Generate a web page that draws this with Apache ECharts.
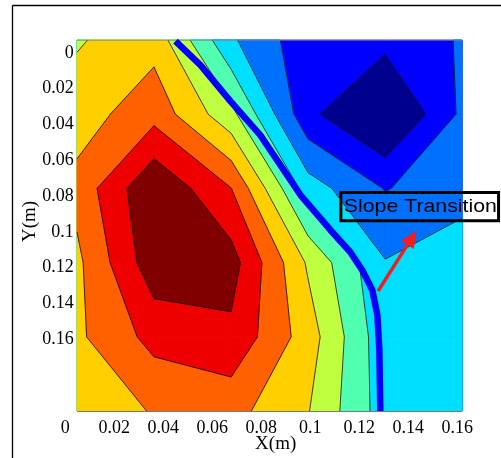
<!DOCTYPE html>
<html>
<head>
<meta charset="utf-8">
<script src="https://cdn.jsdelivr.net/npm/echarts@6/dist/echarts.min.js"></script>
<style>
  html, body { margin: 0; padding: 0; background: #ffffff; }
  #chart { width: 501px; height: 458px; }
</style>
</head>
<body>
<div id="chart"></div>
<script>
// Sampling grid of the measured field (metres)
const gridX = [0.0048, 0.0362, 0.0677, 0.0991, 0.1306, 0.162];
const gridY = [-0.0072, 0.0342, 0.0757, 0.1171, 0.1586, 0.2];

// Field values, one row per gridY entry, one column per gridX entry
const fieldRow0 = [5.9, 6.63, 3.15, 1.35, 1.32, 2.09];
const fieldRow1 = [6.5, 7.65, 5.3, 1.25, -0.35, 2.2];
const fieldRow2 = [7.33, 9.9, 8.02, 3.47, 1.95, 2.58];
const fieldRow3 = [6.77, 9.63, 9.43, 5.86, 3.05, 3.63];
const fieldRow4 = [6.81, 8.33, 8.78, 6.5, 3.31, 3.65];
const fieldRow5 = [6.05, 7.1, 7.34, 6.05, 3.5, 3.7];
const fieldValues = [fieldRow0, fieldRow1, fieldRow2, fieldRow3, fieldRow4, fieldRow5];

// Filled-contour levels and the jet colour of each band
const contourLevels = [1, 2, 3, 4, 5, 6, 7, 8, 9];
const bandColors = ['#00008F', '#0000FF', '#0070FF', '#00DFFF', '#50FFAF',
                    '#BFFF40', '#FFCF00', '#FF6000', '#EF0000', '#800000'];

// Tick labels
const yTickValues = [0, 0.02, 0.04, 0.06, 0.08, 0.1, 0.12, 0.14, 0.16];

// Hand-drawn slope transition line (x, y in metres)
const transitionPath = [
  [0.0450, -0.0066], [0.0552, 0.0068], [0.0674, 0.0269], [0.0796, 0.0459],
  [0.0960, 0.0794], [0.1082, 0.0989], [0.1163, 0.1112], [0.1212, 0.1213],
  [0.1253, 0.1324], [0.1274, 0.1464], [0.1282, 0.1659], [0.1286, 0.2]
];

// Callout arrow and label
const arrowTail = [0.1277, 0.1330];
const arrowTip = [0.1434, 0.0992];
const calloutAnchor = [0.1125, 0.0780];
const calloutText = 'Slope Transition';

function renderContours(params, api) {
  const nx = gridX.length, ny = gridY.length;
  const P = (c, r) => api.coord([gridX[c], gridY[r]]);
  const children = [];
  const tl = P(0, 0), br = P(nx - 1, ny - 1);
  children.push({
    type: 'rect',
    shape: { x: tl[0], y: tl[1], width: br[0] - tl[0], height: br[1] - tl[1] },
    style: { fill: bandColors[0] }
  });
  const segments = [];
  contourLevels.forEach((level, k) => {
    const color = bandColors[k + 1];
    for (let r = 0; r < ny - 1; r++) {
      for (let c = 0; c < nx - 1; c++) {
        const corners = [[c, r], [c + 1, r], [c + 1, r + 1], [c, r + 1]];
        const pts = [];
        for (let i = 0; i < 4; i++) {
          const a = corners[i], b = corners[(i + 1) % 4];
          const va = fieldValues[a[1]][a[0]], vb = fieldValues[b[1]][b[0]];
          const pa = P(a[0], a[1]), pb = P(b[0], b[1]);
          if (va >= level) pts.push({ p: pa, cut: false });
          if ((va >= level) !== (vb >= level)) {
            const t = (level - va) / (vb - va);
            pts.push({ p: [pa[0] + t * (pb[0] - pa[0]), pa[1] + t * (pb[1] - pa[1])], cut: true });
          }
        }
        if (pts.length < 3) continue;
        children.push({
          type: 'polygon',
          shape: { points: pts.map(o => o.p) },
          style: { fill: color, stroke: color, lineWidth: 0.8 }
        });
        for (let i = 0; i < pts.length; i++) {
          const a = pts[i], b = pts[(i + 1) % pts.length];
          if (a.cut && b.cut) segments.push([a.p, b.p]);
        }
      }
    }
  });
  segments.forEach(s => children.push({
    type: 'line',
    shape: { x1: s[0][0], y1: s[0][1], x2: s[1][0], y2: s[1][1] },
    style: { stroke: '#111', lineWidth: 0.8 }
  }));
  // plot frame: bottom and top edges
  children.push({
    type: 'line',
    shape: { x1: tl[0], y1: br[1] + 0.5, x2: br[0], y2: br[1] + 0.5 },
    style: { stroke: '#7a7a7a', lineWidth: 1.2 }
  });
  children.push({
    type: 'line',
    shape: { x1: tl[0], y1: tl[1] + 0.5, x2: br[0], y2: tl[1] + 0.5 },
    style: { stroke: '#808080', lineWidth: 1, opacity: 0.6 }
  });
  return { type: 'group', children };
}

function renderArrow(params, api) {
  const a = api.coord(arrowTail), b = api.coord(arrowTip);
  const dx = b[0] - a[0], dy = b[1] - a[1];
  const len = Math.hypot(dx, dy), ux = dx / len, uy = dy / len;
  const headLen = 17, headHalf = 7.5;
  const base = [b[0] - ux * headLen, b[1] - uy * headLen];
  return {
    type: 'group',
    children: [
      { type: 'line', shape: { x1: a[0], y1: a[1], x2: base[0] + ux * 2, y2: base[1] + uy * 2 },
        style: { stroke: '#F01E1E', lineWidth: 3.4 } },
      { type: 'polygon',
        shape: { points: [b, [base[0] - uy * headHalf, base[1] + ux * headHalf], [base[0] + uy * headHalf, base[1] - ux * headHalf]] },
        style: { fill: '#F01E1E' } }
    ]
  };
}

function renderCallout(params, api) {
  const p = api.coord(calloutAnchor);
  return {
    type: 'group',
    children: [
      { type: 'rect', shape: { x: p[0], y: p[1], width: 157.7, height: 28.3 },
        style: { fill: null, stroke: '#000', lineWidth: 3 } },
      { type: 'text', x: p[0] + 3, y: p[1] + 14.5, scaleX: 1.12,
        style: { text: calloutText, x: 0, y: 0, fill: '#000',
                 fontFamily: '"Liberation Sans", Arial, sans-serif', fontSize: 19,
                 align: 'left', verticalAlign: 'middle' } }
    ]
  };
}

const serif = '"Liberation Serif", "Times New Roman", serif';
const chart = echarts.init(document.getElementById('chart'));
chart.setOption({
  animation: false,
  backgroundColor: '#ffffff',
  graphic: [
    { type: 'line', shape: { x1: 12.5, y1: 5.5, x2: 501, y2: 5.5 }, style: { stroke: '#000', lineWidth: 1.3 } },
    { type: 'line', shape: { x1: 12.5, y1: 5.5, x2: 12.5, y2: 458 }, style: { stroke: '#000', lineWidth: 1.3 } }
  ],
  grid: { left: 65.24, top: 40, width: 396.9, height: 371, containLabel: false, outerBoundsMode: 'none' },
  xAxis: {
    type: 'value', min: 0, max: 0.162, interval: 0.02,
    axisLine: { show: false }, axisTick: { show: false }, splitLine: { show: false },
    axisLabel: { fontFamily: serif, fontSize: 18, color: '#000', margin: 8,
                 showMinLabel: true, showMaxLabel: false },
    name: 'X(m)', nameLocation: 'middle', nameGap: 24, nameMoveOverlap: false,
    nameTextStyle: { fontFamily: serif, fontSize: 19, color: '#000', padding: [0, 0, 0, 24] }
  },
  yAxis: {
    type: 'value', inverse: true, min: -0.0072, max: 0.2,
    axisLine: { show: false }, axisTick: { show: false }, splitLine: { show: false },
    axisLabel: { customValues: yTickValues, fontFamily: serif, fontSize: 18, color: '#000', margin: -8.5,
                 formatter: v => String(Number(v.toFixed(2))) },
    name: 'Y(m)', nameLocation: 'middle', nameGap: 26, nameRotate: 90, nameMoveOverlap: false,
    nameTextStyle: { fontFamily: serif, fontSize: 19, color: '#000', padding: [0, 0, 0, 8] }
  },
  series: [
    { type: 'custom', coordinateSystem: 'cartesian2d', silent: true, z: 1,
      data: [[gridX[0], gridY[0]]], renderItem: renderContours },
    { type: 'line', data: transitionPath, showSymbol: false, silent: true, z: 3,
      lineStyle: { color: '#0000FF', width: 6.5, join: 'round' } },
    { type: 'custom', coordinateSystem: 'cartesian2d', silent: true, z: 4,
      data: [arrowTail], renderItem: renderArrow },
    { type: 'custom', coordinateSystem: 'cartesian2d', silent: true, z: 5, clip: false,
      data: [calloutAnchor], renderItem: renderCallout }
  ]
});
</script>
</body>
</html>
